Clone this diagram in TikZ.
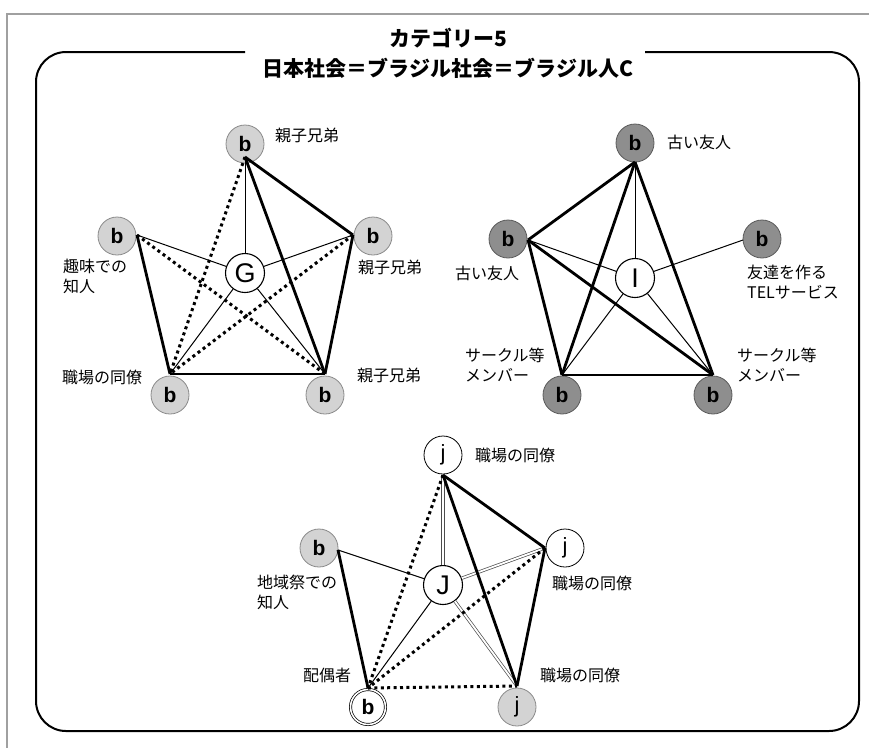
\documentclass[tikz,border=0pt]{standalone}
\usepackage{fontspec}
\setmainfont{Liberation Sans}
\newfontfamily\jp{Noto Sans CJK JP}
\definecolor{lg}{HTML}{D3D3D3}
\definecolor{lgb}{HTML}{8A8A8A}
\definecolor{dg}{HTML}{8E8E8E}
\definecolor{dgb}{HTML}{5A5A5A}
\definecolor{frameg}{HTML}{A0A0A0}
\begin{document}
\begin{tikzpicture}[x=1pt,y=-1pt,
  every node/.style={inner sep=0pt},
  bnode/.style={circle, minimum size=38pt, font=\fontsize{21}{21}\selectfont\bfseries},
  lgc/.style={bnode, fill=lg, draw=lgb, line width=0.8pt},
  dgc/.style={bnode, fill=dg, draw=dgb, line width=0.8pt},
  wc/.style={bnode, fill=white, draw=black, line width=0.8pt, font=\fontsize{22}{22}\selectfont},
  dblc/.style={bnode, fill=white, draw=black, line width=0.7pt, double=white, double distance=1.6pt, minimum size=35pt},
  ctr/.style={circle, minimum size=39pt, fill=white, draw=black, line width=1.1pt, font=\fontsize{27}{27}\selectfont},
  lbl/.style={anchor=west, align=left, font=\jp\fontsize{16}{20.5}\selectfont},
  ttl/.style={font=\jp\bfseries\fontsize{21}{21}\selectfont},
  tline/.style={line width=1pt},
  kline/.style={line width=2.8pt},
  dline/.style={line width=3pt, dash pattern=on 3pt off 3.4pt},
  wline/.style={draw=gray!60!black, line width=0.7pt, double=white, double distance=1.8pt},
]
\useasboundingbox (0,0) rectangle (869,748);
% outer gray frame
\draw[frameg, line width=1.2pt] (869,14) -- (7,14) -- (7,748);
% rounded frame with title gap
\draw[line width=2pt, rounded corners=30pt] (245,52) -- (36,52) -- (36,731) -- (859,731) -- (859,52) -- (645,52);
\node[ttl] (t1) at (448,38) {カテゴリー5};
\node[ttl] (t2) at (448,68) {日本社会＝ブラジル社会＝ブラジル人C};

% ---------- cluster G ----------
\node[ctr] (G) at (245,273) {G};
\node[lgc] (gT) at (245,144) {b};
\node[lgc] (gL) at (117,236) {b};
\node[lgc] (gR) at (373,236) {b};
\node[lgc] (gBL) at (170,395) {b};
\node[lgc] (gBR) at (325,395) {b};
\coordinate (gTa) at (245,157);
\coordinate (gLa) at (137,235);
\coordinate (gRa) at (353,235);
\coordinate (gBLa) at (170,374);
\coordinate (gBRa) at (325,374);
\draw[tline] (gTa) -- (G);
\draw[tline] (gLa) -- (G);
\draw[tline] (gRa) -- (G);
\draw[tline] (gBLa) -- (G);
\draw[tline] (gBRa) -- (G);
\draw[kline] (gTa) -- (gRa);
\draw[kline] (gTa) -- (gBRa);
\draw[kline] (gLa) -- (gBLa);
\draw[kline] (gRa) -- (gBRa);
\draw[kline] (gBLa) -- (gBRa);
\draw[dline] (gTa) -- (gBLa);
\draw[dline] (gLa) -- (gBRa);
\draw[dline] (gRa) -- (gBLa);
\node[lbl] (gTl) at (275,135) {親子兄弟};
\node[lbl] (gRl) at (358,267) {親子兄弟};
\node[lbl] (gLl) at (63,276.5) {趣味での\\知人};
\node[lbl] (gBLl) at (62,377) {職場の同僚};
\node[lbl] (gBRl) at (357,375) {親子兄弟};

% ---------- cluster I ----------
\node[ctr] (I) at (635,278) {I};
\node[dgc] (iT) at (635,143) {b};
\node[dgc] (iL) at (508,239) {b};
\node[dgc] (iR) at (762,239) {b};
\node[dgc] (iBL) at (562,395) {b};
\node[dgc] (iBR) at (713,395) {b};
\coordinate (iTa) at (635,162);
\coordinate (iLa) at (528,240);
\coordinate (iRa) at (743,240);
\coordinate (iBLa) at (562,375);
\coordinate (iBRa) at (713,375);
\draw[tline] (iTa) -- (I);
\draw[tline] (iLa) -- (I);
\draw[tline] (iRa) -- (I);
\draw[tline] (iBLa) -- (I);
\draw[tline] (iBRa) -- (I);
\draw[kline] (iTa) -- (iLa);
\draw[kline] (iTa) -- (iBLa);
\draw[kline] (iTa) -- (iBRa);
\draw[kline] (iLa) -- (iBLa);
\draw[kline] (iLa) -- (iBRa);
\draw[kline] (iBLa) -- (iBRa);
\node[lbl] (iTl) at (667,142) {古い友人};
\node[lbl] (iLl) at (455,273) {古い友人};
\node[lbl] (iRl) at (747,282) {友達を作る\\TELサービス};
\node[lbl] (iBLl) at (465,365) {サークル等\\メンバー};
\node[lbl] (iBRl) at (737,365) {サークル等\\メンバー};

% ---------- cluster J ----------
\node[ctr] (J) at (443,585) {J};
\node[wc] (jT) at (443,455) {j};
\node[lgc] (jL) at (319,548) {b};
\node[wc] (jR) at (565,548) {j};
\node[dblc] (jBL) at (368,707) {b};
\node[lgc, font=\fontsize{22}{22}\selectfont] (jBR) at (517,707) {j};
\coordinate (jTa) at (443,475);
\coordinate (jLa) at (338,550);
\coordinate (jRa) at (545,548);
\coordinate (jBLa) at (368,688);
\coordinate (jBRa) at (517,686);
\draw[wline] (jTa) -- (J);
\draw[wline] (jRa) -- (J);
\draw[wline] (jBRa) -- (J);
\draw[tline] (jLa) -- (J);
\draw[tline] (jBLa) -- (J);
\draw[kline] (jTa) -- (jRa);
\draw[kline] (jTa) -- (jBRa);
\draw[kline] (jRa) -- (jBRa);
\draw[kline] (jLa) -- (jBLa);
\draw[dline] (jTa) -- (jBLa);
\draw[dline] (jRa) -- (jBLa);
\draw[dline] (jBLa) -- (jBRa);
\node[lbl] (jTl) at (475,455) {職場の同僚};
\node[lbl] (jLl) at (257,592.5) {地域祭での\\知人};
\node[lbl] (jRl) at (552,583) {職場の同僚};
\node[lbl] (jBLl) at (303,675) {配偶者};
\node[lbl] (jBRl) at (540,675) {職場の同僚};
\end{tikzpicture}
\end{document}
